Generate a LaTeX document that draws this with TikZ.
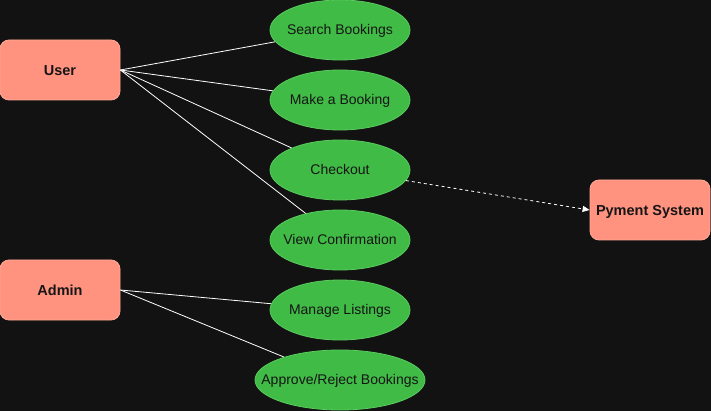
\documentclass[tikz,border=0pt]{standalone}
\usepackage{fontspec}
\setmainfont{Liberation Sans}
\usetikzlibrary{shapes.geometric,arrows.meta}
\definecolor{bg}{HTML}{121212}
\definecolor{actorfill}{HTML}{FF9380}
\definecolor{actorline}{HTML}{FFA898}
\definecolor{ucfill}{HTML}{40BB46}
\definecolor{ucline}{HTML}{5ACB5E}
\definecolor{txt}{HTML}{151515}
\newcommand{\uctext}[1]{\makebox[0pt]{\raisebox{-4.5pt}[0pt][0pt]{#1}}}
\newcommand{\actortext}[1]{\makebox[0pt]{\raisebox{-5.5pt}[0pt][0pt]{#1}}}
\tikzset{
  actor/.style={draw=actorline, line width=0.8pt, fill=actorfill, rounded corners=9pt,
    minimum width=120pt, minimum height=60pt, inner sep=0pt, text=txt,
    font=\fontsize{14.5}{16}\selectfont\bfseries},
  usecase/.style={ellipse, draw=ucline, line width=0.8pt, fill=ucfill, minimum width=140pt,
    minimum height=60pt, inner sep=0pt, text=txt, font=\fontsize{14}{16}\selectfont},
  assoc/.style={draw=white, line width=0.8pt},
  dep/.style={draw=white, line width=0.8pt, dash pattern=on 3pt off 3pt,
    -{Triangle[length=7pt,width=6pt]}}
}
\begin{document}
\begin{tikzpicture}[x=1pt,y=-1pt]
\fill[bg] (0,0) rectangle (711,411);
\useasboundingbox (0,0) rectangle (711,411);
\node[actor] (user) at (60,70) {\actortext{User}};
\node[actor] (admin) at (60,290) {\actortext{Admin}};
\node[actor] (pay) at (650,210) {\actortext{Pyment System}};
\node[usecase] (search) at (340,30) {\uctext{Search Bookings}};
\node[usecase] (make) at (340,100) {\uctext{Make a Booking}};
\node[usecase] (checkout) at (340,170) {\uctext{Checkout}};
\node[usecase] (view) at (340,240) {\uctext{View Confirmation}};
\node[usecase] (manage) at (340,310) {\uctext{Manage Listings}};
\node[usecase, minimum width=170pt] (approve) at (340,380) {\uctext{Approve/Reject Bookings}};
\draw[assoc] (user.east) -- (search);
\draw[assoc] (user.east) -- (make);
\draw[assoc] (user.east) -- (checkout);
\draw[assoc] (user.east) -- (view);
\draw[assoc] (admin.east) -- (manage);
\draw[assoc] (admin.east) -- (approve);
\draw[dep] (checkout) -- (pay.west);
\end{tikzpicture}
\end{document}
